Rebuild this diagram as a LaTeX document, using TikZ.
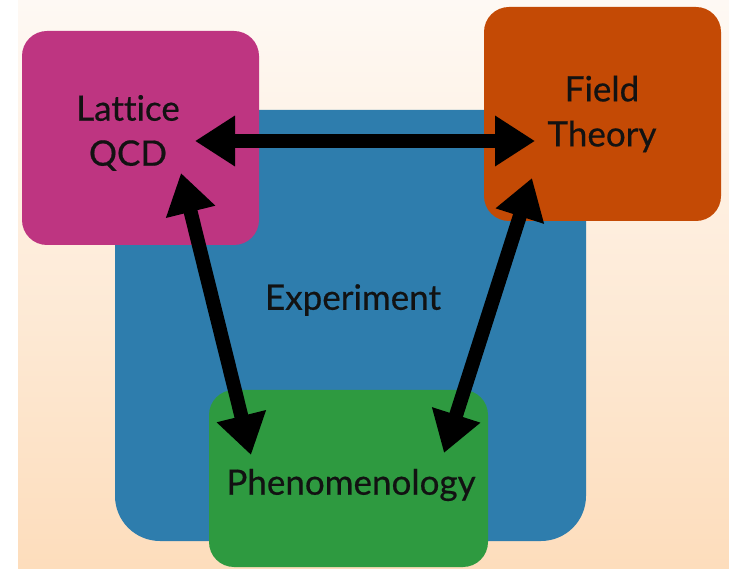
\documentclass[tikz,border=0pt]{standalone}
\usepackage{fontspec}
\setmainfont{Lato}[Ligatures={NoCommon}, FakeBold=0.5]
\usetikzlibrary{arrows.meta, positioning}

\definecolor{bgtop}{RGB}{254,249,244}
\definecolor{bgbot}{RGB}{253,221,188}
\definecolor{lqcdcol}{RGB}{190,53,129}
\definecolor{fieldcol}{RGB}{196,74,5}
\definecolor{expcol}{RGB}{46,125,173}
\definecolor{phenocol}{RGB}{46,154,64}

\begin{document}
\begin{tikzpicture}[x=1pt,y=-1pt,
  box/.style={rounded corners=25pt, minimum width=#1, inner sep=0pt},
  lbl/.style={align=center, font=\fontsize{35}{45}\selectfont, text=black!93},
  dbl/.style={line width=14pt, {Triangle[length=40pt,width=48pt]}-{Triangle[length=40pt,width=48pt]}}]
% Page and background
\useasboundingbox (0,0) rectangle (729,569);
\fill[white] (0,0) rectangle (729,569);
\shade[top color=bgtop, bottom color=bgbot] (18,0) rectangle (729,569);
% Experiment box sits behind everything
\node[box=471pt, rounded corners=45pt, minimum height=431pt, fill=expcol] (expbox) at (350.5,325.5) {};
% The three other boxes
\node[box=237pt, minimum height=214pt, fill=lqcdcol] (lqcdbox) at (140.5,138) {};
\node[box=237pt, minimum height=214pt, fill=fieldcol] (fieldbox) at (602.5,114) {};
\node[box=279pt, minimum height=177pt, fill=phenocol] (phenobox) at (348.5,478.5) {};
% Labels
\node[lbl] (lattice) at (128,133) {Lattice\\QCD};
\node[lbl] (field) at (602,114) {Field\\Theory};
\node[lbl] (exp) at (353,300) {Experiment};
\node[lbl] (pheno) at (351,485) {Phenomenology};
% Arrow tips
\coordinate (lq-r) at (195,141);
\coordinate (lq-b) at (181,173);
\coordinate (ft-l) at (535,141);
\coordinate (ft-b) at (532,178);
\coordinate (ph-l) at (251,455);
\coordinate (ph-r) at (444,453);
% Two-way arrows
\draw[dbl] (lq-r) -- (ft-l);
\draw[dbl] (lq-b) -- (ph-l);
\draw[dbl] (ft-b) -- (ph-r);
\end{tikzpicture}
\end{document}
